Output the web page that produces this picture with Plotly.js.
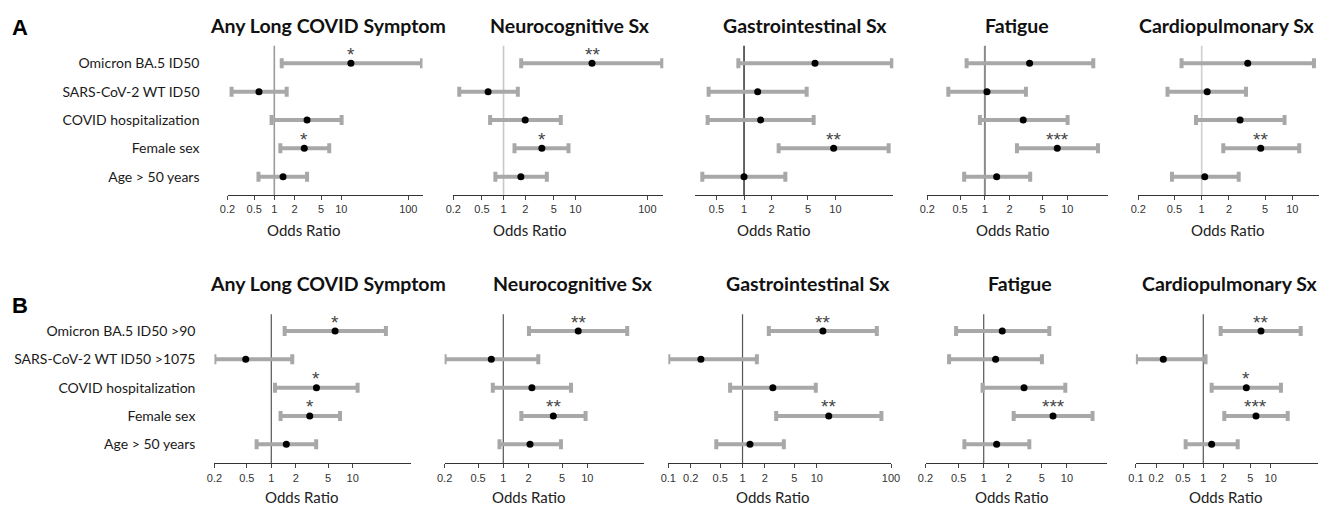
<!DOCTYPE html>
<html>
<head>
<meta charset="utf-8">
<script src="https://cdn.plot.ly/plotly-3.0.1.min.js"></script>
<style>html,body{margin:0;padding:0;background:#fff;}#chart{width:1323px;height:507px;}</style>
</head>
<body>
<div id="chart"></div>
<script>
// ---------- DATA ----------
const categoriesA = ['Omicron BA.5 ID50', 'SARS-CoV-2 WT ID50', 'COVID hospitalization', 'Female sex', 'Age > 50 years'];
const categoriesB = ['Omicron BA.5 ID50 >90', 'SARS-CoV-2 WT ID50 >1075', 'COVID hospitalization', 'Female sex', 'Age > 50 years'];
const outcomes = ['Any Long COVID Symptom', 'Neurocognitive Sx', 'Gastrointestinal Sx', 'Fatigue', 'Cardiopulmonary Sx'];
const panelLetters = ['A', 'B'];
const axisTitle = 'Odds Ratio';

// Panel A (continuous ID50)
const anyA_or = [13.9, 0.59, 3.08, 2.8, 1.35];
const anyA_lo = [1.29, 0.23, 0.91, 1.23, 0.58];
const anyA_hi = [160, 1.53, 10.1, 6.6, 3.08];
const anyA_sig = ['*', '', '', '*', ''];

const neuroA_or = [17.0, 0.61, 2.0, 3.41, 1.74];
const neuroA_lo = [1.76, 0.242, 0.65, 1.42, 0.77];
const neuroA_hi = [161, 1.58, 6.25, 8.0, 4.0];
const neuroA_sig = ['**', '', '', '*', ''];

const giA_or = [5.97, 1.41, 1.52, 9.55, 1.0];
const giA_lo = [0.867, 0.41, 0.40, 2.39, 0.35];
const giA_hi = [41.4, 4.84, 5.77, 38.1, 2.83];
const giA_sig = ['', '', '', '**', ''];

const fatA_or = [3.49, 1.06, 2.92, 7.56, 1.39];
const fatA_lo = [0.60, 0.36, 0.87, 2.45, 0.56];
const fatA_hi = [20.7, 3.15, 10.1, 23.6, 3.55];
const fatA_sig = ['', '', '', '***', ''];

const cardA_or = [3.22, 1.15, 2.65, 4.48, 1.08];
const cardA_lo = [0.60, 0.42, 0.866, 1.73, 0.47];
const cardA_hi = [17.3, 3.08, 8.2, 11.9, 2.56];
const cardA_sig = ['', '', '', '**', ''];

// Panel B (dichotomised ID50)
const anyB_or = [6.08, 0.485, 3.59, 2.97, 1.53];
const anyB_lo = [1.46, 0.2, 1.11, 1.30, 0.66];
const anyB_hi = [25.6, 1.81, 11.5, 7.0, 3.56];
const anyB_sig = ['*', '', '*', '*', ''];

const neuroB_or = [7.8, 0.72, 2.19, 3.94, 2.08];
const neuroB_lo = [2.02, 0.2, 0.75, 1.64, 0.90];
const neuroB_hi = [29.9, 2.61, 6.4, 9.55, 4.86];
const neuroB_sig = ['**', '', '', '**', ''];

const giB_or = [12.1, 0.275, 2.56, 14.5, 1.26];
const giB_lo = [2.26, 0.1, 0.68, 2.84, 0.443];
const giB_hi = [64.4, 1.56, 9.7, 74.3, 3.6];
const giB_sig = ['**', '', '', '**', ''];

const fatB_or = [1.67, 1.39, 3.05, 6.8, 1.43];
const fatB_lo = [0.466, 0.384, 0.97, 2.29, 0.586];
const fatB_hi = [6.14, 5.0, 9.55, 20.3, 3.53];
const fatB_sig = ['', '', '', '***', ''];

const cardB_or = [7.18, 0.255, 4.35, 6.05, 1.33];
const cardB_lo = [1.81, 0.10, 1.33, 2.05, 0.547];
const cardB_hi = [27.9, 1.08, 14.2, 17.9, 3.24];
const cardB_sig = ['**', '', '*', '***', ''];

// tick values per panel
const ticksA1 = [0.2, 0.5, 1, 2, 5, 10, 100];
const ticksA2 = [0.2, 0.5, 1, 2, 5, 10, 100];
const ticksA3 = [0.5, 1, 2, 5, 10];
const ticksA4 = [0.2, 0.5, 1, 2, 5, 10];
const ticksA5 = [0.2, 0.5, 1, 2, 5, 10];
const ticksB1 = [0.2, 0.5, 1, 2, 5, 10];
const ticksB2 = [0.2, 0.5, 1, 2, 5, 10];
const ticksB3 = [0.1, 0.2, 0.5, 1, 2, 5, 10, 100];
const ticksB4 = [0.2, 0.5, 1, 2, 5, 10];
const ticksB5 = [0.1, 0.2, 0.5, 1, 2, 5, 10];

// ---------- LAYOUT / STYLE ----------
const W = 1323, H = 507;
const px = v => v / W;
const py = v => 1 - v / H;

const rows = [
  {cats: categoriesA, ydom: [195, 45.7], yrange: [-0.646, 4.62], standoff: 27, titleY: 25, oddsY: 230, letterY: 27.5},
  {cats: categoriesB, ydom: [463.3, 314.3], yrange: [-0.671, 4.59], standoff: 18, titleY: 283.3, oddsY: 497, letterY: 305}
];

const panels = [
  {row: 0, or: anyA_or, lo: anyA_lo, hi: anyA_hi, sig: anyA_sig, ticks: ticksA1, dom: [227.5, 422.5], range: [Math.log10(0.2), 2.212], titleX: 328, oddsX: 303, ref: ['#9a9a9a', 1.6]},
  {row: 0, or: neuroA_or, lo: neuroA_lo, hi: neuroA_hi, sig: neuroA_sig, ticks: ticksA2, dom: [453.3, 663.3], range: [Math.log10(0.2), 2.222], titleX: 569.5, oddsX: 529.7, ref: ['#c8c8c8', 1.6]},
  {row: 0, or: giA_or, lo: giA_lo, hi: giA_hi, sig: giA_sig, ticks: ticksA3, dom: [695, 893.3], range: [-0.536, 1.632], titleX: 805, oddsX: 773.3, ref: ['#111111', 1.3]},
  {row: 0, or: fatA_or, lo: fatA_lo, hi: fatA_hi, sig: fatA_sig, ticks: ticksA4, dom: [927.3, 1107.7], range: [Math.log10(0.2), 1.491], titleX: 1017, oddsX: 1012.5, ref: ['#8a8a8a', 2]},
  {row: 0, or: cardA_or, lo: cardA_lo, hi: cardA_hi, sig: cardA_sig, ticks: ticksA5, dom: [1138.3, 1319.3], range: [Math.log10(0.2), 1.297], titleX: 1226, oddsX: 1227.5, ref: ['#cfcfcf', 1.6]},
  {row: 1, or: anyB_or, lo: anyB_lo, hi: anyB_hi, sig: anyB_sig, ticks: ticksB1, dom: [214.4, 410.7], range: [Math.log10(0.2), 1.713], titleX: 328, oddsX: 301.7, ref: ['#555555', 1.2]},
  {row: 1, or: neuroB_or, lo: neuroB_lo, hi: neuroB_hi, sig: neuroB_sig, ticks: ticksB2, dom: [444.6, 644.3], range: [Math.log10(0.2), 1.679], titleX: 573, oddsX: 528.8, ref: ['#555555', 1.2]},
  {row: 1, or: giB_or, lo: giB_lo, hi: giB_hi, sig: giB_sig, ticks: ticksB3, dom: [668.3, 891], range: [-1, 2], titleX: 808, oddsX: 772.3, ref: ['#555555', 1.2]},
  {row: 1, or: fatB_or, lo: fatB_lo, hi: fatB_hi, sig: fatB_sig, ticks: ticksB4, dom: [925.5, 1106.7], range: [Math.log10(0.2), 1.477], titleX: 1020, oddsX: 1011.3, ref: ['#555555', 1.2]},
  {row: 1, or: cardB_or, lo: cardB_lo, hi: cardB_hi, sig: cardB_sig, ticks: ticksB5, dom: [1135.9, 1318], range: [-1, 1.702], titleX: 1229, oddsX: 1225.8, ref: ['#555555', 1.2]}
];

const labelFont = 'Lato, "Open Sans", sans-serif';
const tickFontFam = '"Liberation Sans", Arial, sans-serif';

const traces = [];
const layout = {
  width: W, height: H,
  margin: {l: 0, r: 0, t: 0, b: 0},
  paper_bgcolor: '#fff', plot_bgcolor: 'rgba(0,0,0,0)',
  showlegend: false,
  annotations: [], shapes: []
};

panels.forEach((p, i) => {
  const n = i === 0 ? '' : String(i + 1);
  const r = rows[p.row];
  const firstCol = (i % 5) === 0;
  traces.push({
    type: 'scatter', mode: 'markers',
    x: p.or, y: r.cats,
    xaxis: 'x' + n, yaxis: 'y' + n,
    marker: {color: '#000', size: 7},
    error_x: {
      type: 'data', symmetric: false,
      array: p.hi.map((h, k) => h - p.or[k]),
      arrayminus: p.lo.map((l, k) => p.or[k] - l),
      color: '#a8a8a8', thickness: 4, width: 5
    },
    cliponaxis: false, hoverinfo: 'skip'
  });
  layout['xaxis' + n] = {
    type: 'log', domain: [px(p.dom[0]), px(p.dom[1])], range: p.range,
    anchor: 'y' + n, showgrid: false, zeroline: false,
    showline: true, linecolor: '#333', linewidth: 1,
    ticks: 'outside', ticklen: 4, tickwidth: 1, tickcolor: '#444',
    tickvals: p.ticks, ticktext: p.ticks.map(String),
    tickfont: {family: tickFontFam, size: 11, color: '#333'},
    fixedrange: true
  };
  layout['yaxis' + n] = {
    type: 'category', categoryorder: 'array', categoryarray: r.cats.slice().reverse(),
    domain: [py(r.ydom[0]), py(r.ydom[1])], range: r.yrange,
    anchor: 'x' + n, showgrid: false, zeroline: false, showline: false,
    ticks: '', showticklabels: firstCol, ticklabelstandoff: r.standoff,
    tickfont: {family: labelFont, size: 14, color: '#1a1a1a'},
    fixedrange: true
  };
  layout.shapes.push({
    type: 'line', layer: 'below', xref: 'x' + n, yref: 'y' + n + ' domain',
    x0: 1, x1: 1, y0: 0, y1: 1,
    line: {color: p.ref[0], width: p.ref[1]}
  });
  p.sig.forEach((s, k) => {
    if (!s) return;
    layout.annotations.push({
      xref: 'x' + n, yref: 'y' + n, x: Math.log10(p.or[k]), y: r.cats[k],
      text: s, showarrow: false, xanchor: 'center', yanchor: 'middle', yshift: 9,
      font: {family: tickFontFam, size: 19, color: '#444'}
    });
  });
  layout.annotations.push({
    xref: 'paper', yref: 'paper', x: px(p.titleX), y: py(r.titleY),
    text: '<b>' + outcomes[i % 5] + '</b>', showarrow: false, xanchor: 'center', yanchor: 'middle',
    font: {family: labelFont, size: 19.5, color: '#111'}
  });
  layout.annotations.push({
    xref: 'paper', yref: 'paper', x: px(p.oddsX), y: py(r.oddsY),
    text: axisTitle, showarrow: false, xanchor: 'center', yanchor: 'middle',
    font: {family: labelFont, size: 15, color: '#222'}
  });
});

rows.forEach((r, k) => {
  layout.annotations.push({
    xref: 'paper', yref: 'paper', x: px(20), y: py(r.letterY),
    text: '<b>' + panelLetters[k] + '</b>', showarrow: false, xanchor: 'center', yanchor: 'middle',
    font: {family: tickFontFam, size: 22, color: '#000'}
  });
});

Plotly.newPlot('chart', traces, layout, {displayModeBar: false, staticPlot: true});
</script>
</body>
</html>
